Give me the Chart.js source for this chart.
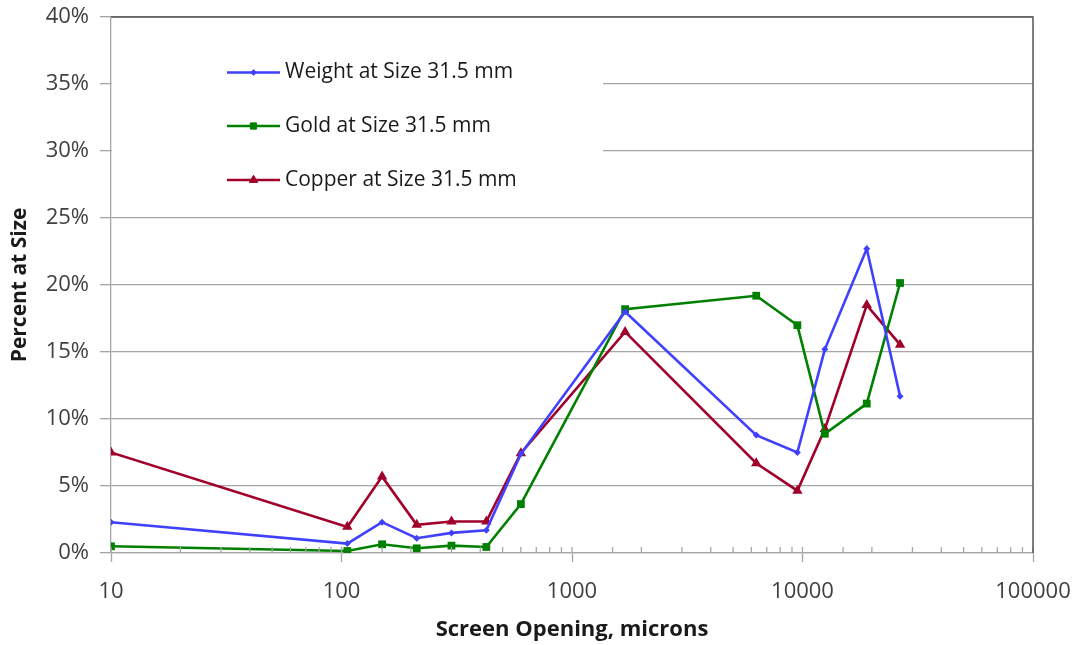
<!DOCTYPE html>
<html>
<head>
<meta charset="utf-8">
<script src="https://cdn.jsdelivr.net/npm/chart.js@4.4.1/dist/chart.umd.min.js"></script>
<style>
  html, body { margin: 0; padding: 0; background: #fff; }
  #wrap { width: 1080px; height: 645px; }
</style>
</head>
<body>
<div id="wrap"><canvas id="chart" width="1080" height="645"></canvas></div>
<script>
/* ---------- data ---------- */
const openings = [10, 106, 150, 212, 300, 425, 600, 1700, 6300, 9500, 12500, 19000, 26500];
const weight = [2.3, 0.7, 2.3, 1.1, 1.5, 1.7, 7.4, 18.0, 8.8, 7.5, 15.2, 22.7, 11.7];
const gold   = [0.5, 0.15, 0.65, 0.35, 0.55, 0.45, 3.65, 18.2, 19.2, 17.0, 8.9, 11.15, 20.15];
const copper = [7.5, 1.95, 5.7, 2.1, 2.35, 2.35, 7.45, 16.5, 6.7, 4.65, 9.25, 18.5, 15.55];
const seriesNames = ["Weight at Size 31.5 mm", "Gold at Size 31.5 mm", "Copper at Size 31.5 mm"];
const xTickLabels = [10, 100, 1000, 10000, 100000];

const FONT = "'Open Sans', sans-serif";
const GRID = "#a6a6a6";

function pts(vals) {
    return openings.map((x, i) => ({ x: x, y: vals[i] }));
}

/* ---------- legend drawn inside plot area, like Excel ---------- */
const insideLegend = {
    id: "insideLegend",
    beforeDatasetsDraw(chart) {
        const ctx = chart.ctx;
        const a = chart.chartArea;
        ctx.save();
        ctx.fillStyle = "#fff";
        ctx.fillRect(a.left + 1, a.top + 2, 603 - a.left - 1, 206 - a.top - 2);

        const rows = [72.5, 126, 180];
        chart.data.datasets.forEach((ds, i) => {
            const y = rows[i];
            ctx.strokeStyle = ds.borderColor;
            ctx.lineWidth = ds.borderWidth;
            ctx.beginPath();
            ctx.moveTo(227, y);
            ctx.lineTo(280, y);
            ctx.stroke();
            ctx.fillStyle = ds.pointBackgroundColor;
            ctx.strokeStyle = ds.borderColor;
            ctx.lineWidth = 1;
            Chart.helpers.drawPoint(ctx, {
                pointStyle: ds.pointStyle,
                radius: ds.pointRadius * 0.8,
                rotation: 0,
                borderWidth: 1
            }, 253.5, y);
            ctx.fillStyle = "#1a1a1a";
            ctx.font = "21px " + FONT;
            ctx.textBaseline = "middle";
            ctx.textAlign = "left";
            ctx.fillText(ds.label, 285, y);
        });
        ctx.restore();
    }
};

/* ---------- frame + inward minor ticks ---------- */
const frame = {
    id: "frame",
    afterDraw(chart) {
        const ctx = chart.ctx;
        const a = chart.chartArea;
        const xs = chart.scales.x;
        ctx.save();
        ctx.strokeStyle = GRID;
        ctx.lineWidth = 1.3;
        xs.ticks.forEach(t => {
            const px = xs.getPixelForValue(t.value);
            ctx.beginPath();
            ctx.moveTo(px, a.bottom);
            ctx.lineTo(px, a.bottom - 6);
            ctx.stroke();
        });
        ctx.strokeStyle = "#555";
        ctx.lineWidth = 1.5;
        ctx.beginPath();
        ctx.moveTo(a.left, a.top);
        ctx.lineTo(a.right, a.top);
        ctx.lineTo(a.right, a.bottom);
        ctx.stroke();
        ctx.restore();
    }
};

const isMajor = v => xTickLabels.includes(Math.round(v));

new Chart(document.getElementById("chart"), {
    type: "line",
    data: {
        datasets: [
            {
                label: seriesNames[0], data: pts(weight),
                borderColor: "#4040ff", pointBackgroundColor: "#4040ff",
                borderWidth: 2.6, pointStyle: "rectRot", pointRadius: 3.5, pointBorderWidth: 0
            },
            {
                label: seriesNames[1], data: pts(gold),
                borderColor: "#008000", pointBackgroundColor: "#008000",
                borderWidth: 2.6, pointStyle: "rect", pointRadius: 5.5, pointBorderWidth: 0
            },
            {
                label: seriesNames[2], data: pts(copper),
                borderColor: "#a0002a", pointBackgroundColor: "#a0002a",
                borderWidth: 2.6, pointStyle: "triangle", pointRadius: 6, pointBorderWidth: 0
            }
        ]
    },
    options: {
        responsive: false,
        animation: false,
        devicePixelRatio: 1,
        layout: { padding: { top: 17, right: 47, left: 0, bottom: 0 } },
        plugins: { legend: { display: false }, tooltip: { enabled: false } },
        elements: { line: { tension: 0 } },
        scales: {
            x: {
                type: "logarithmic",
                min: 10,
                max: 100000,
                afterFit: s => { s.height = 92; s.paddingLeft = 0; s.paddingRight = 0; },
                border: { display: true, color: GRID, width: 1.3 },
                grid: {
                    drawOnChartArea: false,
                    drawTicks: true,
                    tickLength: 9,
                    tickWidth: 1.3,
                    tickColor: c => (c.tick && isMajor(c.tick.value)) ? GRID : "rgba(0,0,0,0)"
                },
                ticks: {
                    autoSkip: false,
                    maxRotation: 0,
                    padding: 17,
                    color: "#404040",
                    font: { family: FONT, size: 22 },
                    callback: v => isMajor(v) ? String(Math.round(v)) : ""
                },
                title: {
                    display: true,
                    text: "Screen Opening, microns",
                    color: "#1a1a1a",
                    font: { family: FONT, size: 22, weight: "bold" },
                    padding: { top: 0, bottom: 2 }
                }
            },
            y: {
                min: 0,
                max: 40,
                afterFit: s => { s.width = 111; s.paddingTop = 0; s.paddingBottom = 0; },
                border: { display: true, color: GRID, width: 1.3 },
                grid: {
                    color: GRID,
                    lineWidth: 1.3,
                    drawTicks: true,
                    tickLength: 11
                },
                ticks: {
                    stepSize: 5,
                    padding: 11,
                    color: "#404040",
                    font: { family: FONT, size: 22 },
                    callback: v => v + "%"
                },
                title: {
                    display: true,
                    text: "Percent at Size",
                    color: "#1a1a1a",
                    font: { family: FONT, size: 21, weight: "bold" },
                    padding: { top: 7, bottom: 0 }
                }
            }
        }
    },
    plugins: [insideLegend, frame]
});
</script>
</body>
</html>
